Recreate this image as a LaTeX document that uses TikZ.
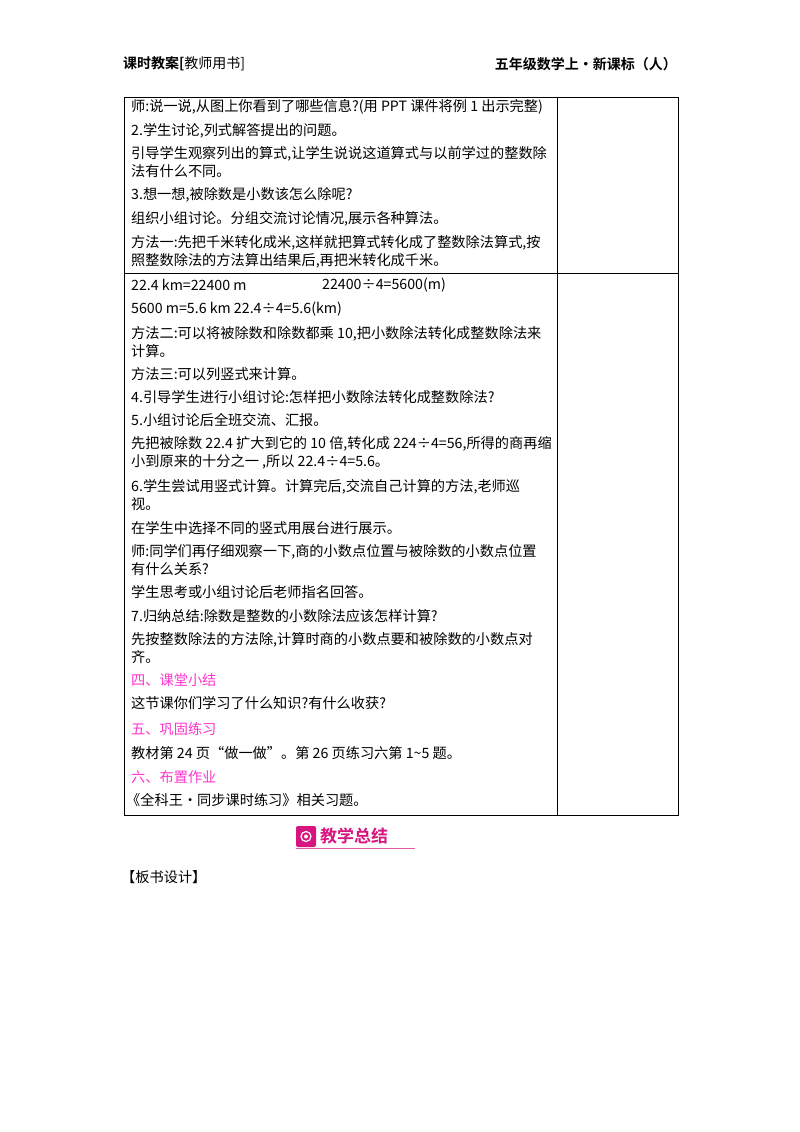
\documentclass[tikz,border=0pt]{standalone}
\usepackage{fontspec}
\newfontfamily\cjk{Noto Sans CJK SC}
\newfontfamily\cjkb{Noto Sans CJK SC Bold}
\definecolor{mag}{HTML}{FF33CC}
\definecolor{badge}{HTML}{D6157F}
\begin{document}
\begin{tikzpicture}[x=1pt,y=-1pt,
  t/.style={anchor=west,inner sep=0pt,font=\cjk\fontsize{14.2}{18}\selectfont,align=left},
  h/.style={t,text=mag},
  rule/.style={line width=1pt}]
\useasboundingbox (0,0) rectangle (800,1132);
\node[t,font=\cjkb\fontsize{14}{18}\selectfont] (hl) at (123,64) {课时教案[\cjk 教师用书]};
\node[t,anchor=east,font=\cjkb\fontsize{14}{18}\selectfont] (hr) at (677,64) {五年级数学上·新课标（人）};
\draw[rule] (124,97) rectangle (678,815);
\draw[rule] (557,97) -- (557,815);
\draw[rule] (124,273) -- (678,273);
\node[t] (a1) at (131,107) {师:说一说,从图上你看到了哪些信息?(用 PPT 课件将例 1 出示完整)};
\node[t] (a2) at (131,131) {2.学生讨论,列式解答提出的问题。};
\node[t] (a3) at (131,162) {引导学生观察列出的算式,让学生说说这道算式与以前学过的整数除\\法有什么不同。};
\node[t] (a4) at (131,195) {3.想一想,被除数是小数该怎么除呢?};
\node[t] (a5) at (131,219) {组织小组讨论。分组交流讨论情况,展示各种算法。};
\node[t] (a6) at (131,252) {方法一:先把千米转化成米,这样就把算式转化成了整数除法算式,按\\照整数除法的方法算出结果后,再把米转化成千米。};
\node[t] (b1) at (131,285) {22.4 km=22400 m};
\node[t] (b1r) at (322,285) {22400÷4=5600(m)};
\node[t] (b2) at (131,309) {5600 m=5.6 km 22.4÷4=5.6(km)};
\node[t] (b3) at (131,342) {方法二:可以将被除数和除数都乘 10,把小数除法转化成整数除法来\\计算。};
\node[t] (b4) at (131,374) {方法三:可以列竖式来计算。};
\node[t] (b5) at (131,397) {4.引导学生进行小组讨论:怎样把小数除法转化成整数除法?};
\node[t] (b6) at (131,420) {5.小组讨论后全班交流、汇报。};
\node[t] (b7) at (131,453) {先把被除数 22.4 扩大到它的 10 倍,转化成 224÷4=56,所得的商再缩\\小到原来的十分之一 ,所以 22.4÷4=5.6。};
\node[t] (b8) at (131,495) {6.学生尝试用竖式计算。计算完后,交流自己计算的方法,老师巡\\视。};
\node[t] (b9) at (131,528) {在学生中选择不同的竖式用展台进行展示。};
\node[t] (b10) at (131,560) {师:同学们再仔细观察一下,商的小数点位置与被除数的小数点位置\\有什么关系?};
\node[t] (b11) at (131,592) {学生思考或小组讨论后老师指名回答。};
\node[t] (b12) at (131,616) {7.归纳总结:除数是整数的小数除法应该怎样计算?};
\node[t] (b13) at (131,648) {先按整数除法的方法除,计算时商的小数点要和被除数的小数点对\\齐。};
\node[h] (c1) at (131,680) {四、课堂小结};
\node[t] (c2) at (131,703) {这节课你们学习了什么知识?有什么收获?};
\node[h] (c3) at (131,729) {五、巩固练习};
\node[t] (c4) at (131,753) {教材第 24 页“做一做”。第 26 页练习六第 1\textasciitilde5 题。};
\node[h] (c5) at (131,777) {六、布置作业};
\node[t] (c6) at (126,800) {《全科王·同步课时练习》相关习题。};
% badge
\fill[badge,rounded corners=2pt] (296,826) rectangle (316,847);
\draw[white,line width=1.2pt] (306,836.5) circle (5);
\fill[white] (306,836.5) circle (2);
\node[t,font=\cjkb\fontsize{17}{18}\selectfont,text=badge] (bt) at (320,836) {教学总结};
\draw[badge!70,line width=0.8pt] (296,848) -- (415,848);
\node[t] (bs) at (121,877) {【板书设计】};
\end{tikzpicture}
\end{document}
